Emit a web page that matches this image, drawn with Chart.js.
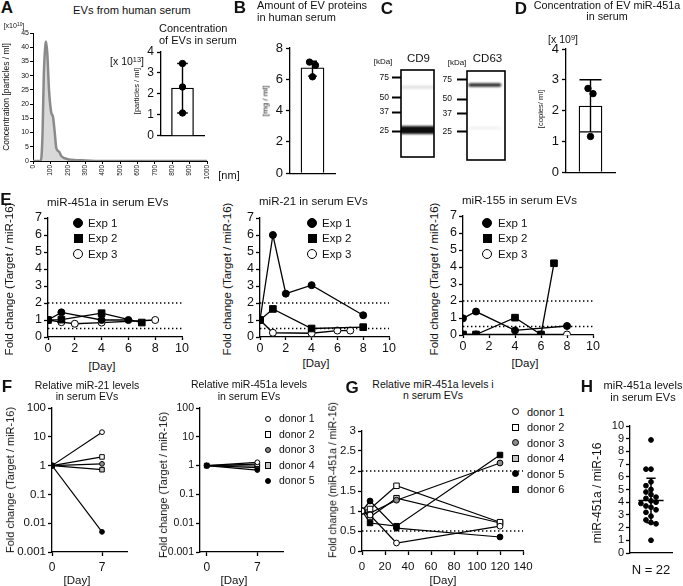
<!DOCTYPE html>
<html>
<head>
<meta charset="utf-8">
<script src="https://cdn.jsdelivr.net/npm/chart.js@4.4.1/dist/chart.umd.min.js"></script>
<style>
html, body { margin: 0; padding: 0; background: #fff; }
#fig { position: relative; width: 683px; height: 586px; overflow: hidden; font-family: 'Liberation Sans', Arial, sans-serif; color: #111; }
#fig canvas { position: absolute; }
.t { position: absolute; white-space: nowrap; line-height: 1.1; color: #111; }
.t sup { font-size: 0.7em; vertical-align: 0.5em; line-height: 0; }
.mk { position: absolute; box-sizing: border-box; border: 1.2px solid #000; }
</style>
</head>
<body>
<div id="fig"></div>
<script>
// A - size distribution (x10^10 particles/ml) and particle concentration (x10^13)
const ntaSizeNm = [0, 45, 55, 62, 70, 75, 82, 92, 105, 115, 125, 134, 150, 162, 181, 200, 250, 300, 400, 1000];
const ntaConc = [0, 0, 10, 30, 40, 42, 38, 25, 17, 15.5, 10, 4.5, 3.3, 1.8, 1, 0.6, 0.3, 0.2, 0, 0];
const evConcMean = 2.28;
const evConcPoints = [3.45, 2.33, 1.09];
const evConcRange = [1.09, 3.45];

// B - EV protein (mg/ml)
const protMean = 6.73;
const protPoints = [7.1, 6.9, 6.16];
const protRange = [6.2, 7.15];

// C - western blot
const kdaLadder = [75, 50, 37, 25];
const cd9Bands = [25.5, 62];
const cd9Intensity = [0.95, 0.12];
const cd63Bands = [67.5, 27];
const cd63Intensity = [0.85, 0.05];

// D - miR-451a copies (x10^9 / ml)
const mirMean = 2.15;
const mirPoints = [2.72, 2.55, 1.16];
const mirRange = [1.31, 3.0];

// E - fold change over days, one list per experiment
const expNames = ['Exp 1', 'Exp 2', 'Exp 3'];
const e451Days = [[0, 1, 4, 6], [0, 1, 4, 7], [0, 1, 2, 4, 8]];
const e451Fold = [[1, 1.45, 1.0, 1.0], [1, 1.02, 1.4, 0.85], [1, 0.87, 0.78, 0.85, 1.0]];
const e21Days = [[0, 1, 2, 4, 8], [0, 1, 4, 8], [0, 1, 4, 6, 7]];
const e21Fold = [[1, 6.0, 2.55, 3.05, 1.28], [1, 1.65, 0.5, 0.58], [1, 0.25, 0.22, 0.38, 0.38]];
const e155Days = [[0, 1, 4, 8], [0, 1, 4, 6, 7], [0, 1, 6, 8]];
const e155Fold = [[0.98, 1.38, 0.27, 0.53], [0.03, 0.03, 1.02, 0.03, 4.22], [0.03, 0.03, 0.03, 0.03]];
const foldGuides = [2, 0.5];

// F - day 0 vs day 7, per donor
const donorNames = ['donor 1', 'donor 2', 'donor 3', 'donor 4', 'donor 5', 'donor 6'];
const fDays = [0, 7];
const f21Fold = [[1, 14.5], [1, 2.0], [1, 1.15], [1, 0.72], [1, 0.005]];
const f451Fold = [[1, 1.3], [1, 1.12], [1, 0.97], [1, 0.85], [1, 0.7]];
const logTicks = [0.001, 0.01, 0.1, 1, 10, 100];

// G - long term, per donor
const gDays = [0, 7, 30, 120];
const gFold = [
    [1, 0.9, 0.2, 0.62],
    [1, 1.05, 1.63, 0.72],
    [1, 0.95, 1.27, 2.2],
    [1, 0.85, 1.32, 0.7],
    [1, 1.25, 0.57, 0.35],
    [1, 0.7, 0.62, 2.4]
];

// H - miR-451a / miR-16 in 22 sera
const hLevels = [8.9, 6.6, 6.6, 5.6, 5.3, 5.0, 4.8, 4.6, 4.4, 4.3, 4.1, 4.0, 3.9, 3.7, 3.6, 3.4, 3.2, 2.9, 2.6, 2.4, 2.3, 1.0];
const hMean = 4.13;
const hSd = [2.39, 5.88];

// ------------------------------------------------------------------
Chart.defaults.font.family = "'Liberation Sans', Arial, sans-serif";
Chart.defaults.color = '#111';

const fig = document.getElementById('fig');

function merge(a, b) {
    const out = Object.assign({}, a);
    for (const k in b) {
        if (b[k] && typeof b[k] === 'object' && !Array.isArray(b[k]) && a[k] && typeof a[k] === 'object') {
            out[k] = merge(a[k], b[k]);
        } else {
            out[k] = b[k];
        }
    }
    return out;
}

function canvasFor(box, m) {
    const w = box.r - box.l + m.l + m.r;
    const h = box.b - box.t + m.t + m.b;
    const cv = document.createElement('canvas');
    cv.width = w;
    cv.height = h;
    cv.style.left = (box.l - m.l) + 'px';
    cv.style.top = (box.t - m.t) + 'px';
    cv.style.width = w + 'px';
    cv.style.height = h + 'px';
    fig.appendChild(cv);
    return cv;
}

function text(html, x, y, size, o = {}) {
    const d = document.createElement('div');
    d.className = 't';
    d.innerHTML = html;
    d.style.left = x + 'px';
    d.style.top = y + 'px';
    d.style.fontSize = size + 'px';
    if (o.bold) d.style.fontWeight = 'bold';
    if (o.center) d.style.textAlign = 'center';
    const tx = o.align === 'left' ? '0' : '-50%';
    d.style.transform = 'translate(' + tx + ',-50%)' + (o.rot ? ' rotate(-90deg)' : '');
    fig.appendChild(d);
}

function marker(x, y, shape, size, fill) {
    const d = document.createElement('div');
    d.className = 'mk';
    d.style.left = (x - size / 2) + 'px';
    d.style.top = (y - size / 2) + 'px';
    d.style.width = size + 'px';
    d.style.height = size + 'px';
    d.style.background = fill;
    d.style.borderRadius = shape === 'circle' ? '50%' : '0';
    fig.appendChild(d);
}

function baseAxis(extra) {
    return merge({
        border: { display: true, color: '#000', width: 1.3 },
        grid: { drawOnChartArea: false, color: '#000', tickLength: 4, tickWidth: 1.3 },
        ticks: { color: '#111', padding: 2, autoSkip: false, maxRotation: 0, font: { size: 12 }, callback: v => String(v) }
    }, extra || {});
}

function plot(box, m, datasets, xAxis, yAxis, plugins) {
    const cv = canvasFor(box, m);
    return new Chart(cv, {
        type: 'scatter',
        data: { datasets: datasets },
        options: {
            responsive: false,
            animation: false,
            devicePixelRatio: 1,
            layout: { padding: { top: m.t, right: m.r, left: 0, bottom: 0 } },
            plugins: { legend: { display: false }, tooltip: { enabled: false } },
            scales: {
                x: merge(baseAxis(xAxis), { afterFit: s => { s.height = m.b; } }),
                y: merge(baseAxis(yAxis), { afterFit: s => { s.width = m.l; } })
            }
        },
        plugins: plugins || []
    });
}

function errorBars(x, range, cap) {
    return {
        id: 'errorBars',
        afterDatasetDraw(chart, args) {
            if (args.meta.type !== 'bar') return;
            const ctx = chart.ctx;
            const px = chart.scales.x.getPixelForValue(x);
            const lo = chart.scales.y.getPixelForValue(range[0]);
            const hi = chart.scales.y.getPixelForValue(range[1]);
            ctx.save();
            ctx.strokeStyle = '#000';
            ctx.lineWidth = 1.4;
            ctx.beginPath();
            ctx.moveTo(px, lo); ctx.lineTo(px, hi);
            ctx.moveTo(px - cap, lo); ctx.lineTo(px + cap, lo);
            ctx.moveTo(px - cap, hi); ctx.lineTo(px + cap, hi);
            ctx.stroke();
            ctx.restore();
        }
    };
}

// spread close values sideways, centred on the column
function groupJitter(vals, near, step) {
    const offs = vals.map(() => 0);
    const used = vals.map(() => false);
    vals.forEach((v, i) => {
        if (used[i]) return;
        const grp = vals.map((w, j) => j).filter(j => !used[j] && Math.abs(vals[j] - v) < near);
        grp.forEach((j, k) => { used[j] = true; offs[j] = (k - (grp.length - 1) / 2) * step; });
    });
    return offs;
}

function swarm(vals, near, step) {
    const placed = [];
    return vals.map(v => {
        for (let k = 0; k < 40; k++) {
            const off = k === 0 ? 0 : (k % 2 ? -1 : 1) * Math.ceil(k / 2) * step;
            if (!placed.some(p => Math.abs(p.x - off) < step * 0.9 && Math.abs(p.y - v) < near)) {
                placed.push({ x: off, y: v });
                return off;
            }
        }
        return 0;
    });
}

function barPanel(box, m, mean, pts, range, yMax, stepSize, cap, near, step) {
    const offs = groupJitter(pts, near, step);
    const ds = [
        { type: 'bar', data: [{ x: 0, y: mean }], barThickness: box.bar, backgroundColor: '#fff', borderColor: '#000', borderWidth: 1.3, order: 2 },
        { type: 'scatter', data: pts.map((v, i) => ({ x: offs[i], y: v })), pointRadius: 3.2, backgroundColor: '#000', borderColor: '#000', order: 1 }
    ];
    return plot(box, m, ds,
        { min: -1, max: 1, ticks: { display: false }, grid: { display: false } },
        { min: 0, max: yMax, ticks: { stepSize: stepSize, padding: 3, font: { size: box.font } } },
        [errorBars(0, range, cap)]);
}

function lineSet(days, vals, st, r, w) {
    return {
        data: days.map((d, i) => ({ x: d, y: vals[i] })),
        showLine: true,
        borderColor: '#000',
        borderWidth: w,
        pointStyle: st.pointStyle,
        pointRadius: st.pointStyle === 'rect' ? r * 1.34 : r,
        pointBackgroundColor: st.fill,
        pointBorderColor: '#000',
        pointBorderWidth: 1
    };
}

function guide(v, x0, x1) {
    return {
        data: [{ x: x0, y: v }, { x: x1, y: v }],
        showLine: true, borderColor: '#000', borderWidth: 1.4, borderDash: [1.4, 2.6],
        pointRadius: 0, order: 10
    };
}

const expStyle = [
    { pointStyle: 'circle', fill: '#000' },
    { pointStyle: 'rect', fill: '#000' },
    { pointStyle: 'circle', fill: '#fff' }
];
const donorStyle = [
    { pointStyle: 'circle', fill: '#fff' },
    { pointStyle: 'rect', fill: '#fff' },
    { pointStyle: 'circle', fill: '#8c8c8c' },
    { pointStyle: 'rect', fill: '#c4c4c4' },
    { pointStyle: 'circle', fill: '#000' },
    { pointStyle: 'rect', fill: '#000' }
];

// ---------------- A ----------------
plot({ l: 33, t: 33, r: 207, b: 161 }, { l: 33, t: 12, r: 14, b: 26 },
    [{
        data: ntaSizeNm.map((s, i) => ({ x: s, y: ntaConc[i] })),
        showLine: true, fill: 'origin', backgroundColor: '#d9d9d9',
        borderColor: '#8a8a8a', borderWidth: 2.5, pointRadius: 0,
        cubicInterpolationMode: 'monotone'
    }],
    {
        min: 0, max: 1000, border: { width: 1 },
        grid: { tickLength: 3, tickWidth: 1 },
        ticks: { stepSize: 100, minRotation: 90, maxRotation: 90, padding: 1, font: { size: 6.5 } }
    },
    {
        min: 0, max: 45, border: { width: 1 },
        grid: { tickLength: 3, tickWidth: 1 },
        ticks: { stepSize: 5, padding: 1, font: { size: 7 } }
    });

barPanel({ l: 161, t: 52, r: 204, b: 136, bar: 22, font: 12 }, { l: 22, t: 12, r: 6, b: 10 },
    evConcMean, evConcPoints, evConcRange, 4, 1, 5.3, 0.4, 0.4);

text('A', 7, 8, 17, { bold: true });
text('EVs from human serum', 73, 10, 11.2, { align: 'left' });
text('[x10<sup>10</sup>]', 14, 26, 7);
text('Concentration [particles / ml]', 7, 97, 8.5, { rot: true });
text('[nm]', 229, 175, 11);
text('Concentration<br>of EVs in serum', 159, 33.5, 11, { align: 'left' });
text('[x 10<sup>13</sup>]', 127, 62, 10.5);
text('[particles / ml]', 137, 91, 7.5, { rot: true });

// ---------------- B ----------------
barPanel({ l: 290, t: 48, r: 335, b: 174, bar: 23, font: 13 }, { l: 24, t: 12, r: 6, b: 10 },
    protMean, protPoints, protRange, 8, 2, 4.5, 0.4, 0.4);
text('B', 240, 8, 17, { bold: true });
text('Amount of EV proteins<br>in human serum', 257, 11, 11, { align: 'left' });
text('[mg / ml]', 266, 101, 8, { rot: true });

// ---------------- C ----------------
const blurBands = {
    id: 'blurBands',
    beforeDatasetDraw(chart) { chart.ctx.save(); chart.ctx.filter = 'blur(1.2px)'; },
    afterDatasetDraw(chart) { chart.ctx.restore(); }
};
const boxBorder = {
    id: 'boxBorder',
    afterDraw(chart) {
        const a = chart.chartArea, ctx = chart.ctx;
        ctx.save();
        ctx.strokeStyle = '#000';
        ctx.lineWidth = 1.6;
        ctx.strokeRect(a.left, a.top, a.width, a.height);
        ctx.restore();
    }
};

function blotPanel(box, m, bands, intensity, widths, span, yMin, yMax, tickLen, tickPad) {
    const cv = canvasFor(box, m);
    new Chart(cv, {
        type: 'scatter',
        data: {
            datasets: bands.map((k, i) => ({
                data: [{ x: span[0], y: k }, { x: span[1], y: k }],
                showLine: true, borderColor: 'rgba(0,0,0,' + intensity[i] + ')',
                borderWidth: widths[i], borderCapStyle: 'round', pointRadius: 0
            }))
        },
        options: {
            responsive: false, animation: false, devicePixelRatio: 1,
            layout: { padding: { top: m.t, right: m.r, bottom: m.b, left: 0 } },
            plugins: { legend: { display: false }, tooltip: { enabled: false } },
            scales: {
                x: { display: false, min: 0, max: 1 },
                y: {
                    type: 'logarithmic', min: yMin, max: yMax,
                    afterFit: s => { s.width = m.l; },
                    afterBuildTicks: s => { s.ticks = kdaLadder.map(v => ({ value: v })); },
                    border: { display: false },
                    grid: { drawOnChartArea: false, color: '#000', tickLength: tickLen, tickWidth: 2 },
                    ticks: { padding: tickPad, autoSkip: false, color: '#111', font: { size: 8.5 }, callback: v => String(v) }
                }
            }
        },
        plugins: [blurBands, boxBorder]
    });
}

blotPanel({ l: 401, t: 70, r: 434, b: 157 }, { l: 28, t: 12, r: 4, b: 12 },
    cd9Bands, cd9Intensity, [8, 3], [0.05, 0.95], 14.6, 88.5, 9, 3);
blotPanel({ l: 467, t: 71, r: 505, b: 160 }, { l: 28, t: 12, r: 4, b: 12 },
    cd63Bands, cd63Intensity, [3.5, 3], [0.08, 0.86], 13.7, 90.8, 10, 5);
text('C', 387, 9, 17, { bold: true });
text('CD9', 418.5, 58, 11.5);
text('CD63', 487.5, 57.5, 11.5);
text('[kDa]', 383, 62, 8);
text('[kDa]', 457, 63, 8);

// ---------------- D ----------------
barPanel({ l: 566, t: 49, r: 615, b: 173, bar: 23, font: 13 }, { l: 24, t: 12, r: 6, b: 10 },
    mirMean, mirPoints, mirRange, 4, 1, 11, 0.4, 0.31);
text('D', 521, 9, 17, { bold: true });
text('Concentration of EV miR-451a<br>in serum', 607, 11.5, 10.8, { center: true });
text('[x 10<sup>9</sup>]', 563, 40, 10.5);
text('[copies/ ml]', 541, 109, 7.6, { rot: true });

// ---------------- E ----------------
const ePanels = [
    { box: { l: 48, t: 218, r: 182, b: 337 }, days: e451Days, fold: e451Fold, title: 'miR-451a in serum EVs', ty: 201.5, lab: 9, day: [102, 366], leg: [78, 88, 222.5] },
    { box: { l: 260, t: 218, r: 389, b: 337 }, days: e21Days, fold: e21Fold, title: 'miR-21 in serum EVs', ty: 200.5, lab: 227, day: [316, 363], leg: [312, 322, 222.5] },
    { box: { l: 463, t: 216, r: 593, b: 335 }, days: e155Days, fold: e155Fold, title: 'miR-155 in serum EVs', ty: 200, lab: 434, day: [525, 363], leg: [487, 498, 222.5] }
];

ePanels.forEach(p => {
    const ds = p.days.map((d, i) => lineSet(d, p.fold[i], expStyle[i], 3.5, 1.3));
    foldGuides.forEach(g => ds.push(guide(g, 0, 10)));
    plot(p.box, { l: 22, t: 12, r: 14, b: 18 }, ds,
        { min: 0, max: 10, grid: { tickLength: 3 }, ticks: { stepSize: 2, padding: 1, font: { size: 12.5 } } },
        { min: 0, max: 7, ticks: { stepSize: 1, font: { size: 12.5 } } });
    text(p.title, p.box.l - 1, p.ty, 11.5, { align: 'left' });
    text('Fold change (Target / miR-16)', p.lab, 279, 11.5, { rot: true });
    text('[Day]', p.day[0], p.day[1], 11.5);
    expNames.forEach((n, i) => {
        const y = p.leg[2] + i * 15.7;
        marker(p.leg[0], y, expStyle[i].pointStyle === 'rect' ? 'square' : 'circle', expStyle[i].pointStyle === 'rect' ? 9 : 10, expStyle[i].fill);
        text(n, p.leg[1], y, 11.5, { align: 'left' });
    });
});
text('E', 6, 200, 17, { bold: true });

// ---------------- F ----------------
const logAxis = {
    type: 'logarithmic', min: 0.001, max: 100,
    afterBuildTicks: s => { s.ticks = logTicks.map(v => ({ value: v })); }
};
const dayAxis = {
    afterBuildTicks: s => { s.ticks = fDays.map(v => ({ value: v })); },
    ticks: { padding: 4 }
};

function fSets(fold) {
    return fold.map((v, i) => {
        const s = lineSet(fDays, v, donorStyle[i], 2.4, 1.2);
        s.order = i === 4 ? -1 : i;
        return s;
    });
}

plot({ l: 52, t: 408, r: 127, b: 552 }, { l: 52, t: 12, r: 8, b: 22 }, fSets(f21Fold),
    merge(dayAxis, { min: 0, max: 10.5 }), merge(logAxis, { ticks: { font: { size: 11.5 } } }));
plot({ l: 200, t: 408, r: 283, b: 552 }, { l: 34, t: 12, r: 8, b: 22 }, fSets(f451Fold),
    merge(dayAxis, { min: -0.93, max: 10.55 }), merge(logAxis, { ticks: { font: { size: 10.5 } } }));

text('F', 7, 387, 17, { bold: true });
text('Relative miR-21 levels<br>in serum EVs', 87, 391.5, 10.5, { center: true });
text('Relative miR-451a levels<br>in serum EVs', 249, 391, 10.5, { center: true });
text('Fold change (Target / miR-16)', 10, 480, 11, { rot: true });
text('Fold change (Target / miR-16)', 163, 485, 11, { rot: true });
text('[Day]', 77, 580, 11.5);
text('[Day]', 234, 580, 11.5);
f451Fold.forEach((v, i) => {
    const y = 419 + i * 15.5;
    marker(268, y, donorStyle[i].pointStyle === 'rect' ? 'square' : 'circle', 6.5, donorStyle[i].fill);
    text(donorNames[i], 279, y, 10.5, { align: 'left' });
});

// ---------------- G ----------------
const gSets = gFold.map((v, i) => lineSet(gDays, v, donorStyle[i], 2.9, 1.2));
foldGuides.forEach(g => gSets.push(guide(g, 0, 140)));
plot({ l: 362, t: 431, r: 523, b: 551 }, { l: 26, t: 12, r: 20, b: 26 }, gSets,
    { min: 0, max: 140, ticks: { stepSize: 20, padding: 5, font: { size: 11.5 } } },
    { min: 0, max: 3, ticks: { stepSize: 0.5, font: { size: 11.5 } } });

text('G', 352, 388, 17, { bold: true });
text('Relative miR-451a levels i<br>n serum EVs', 433, 390.5, 10.5, { center: true });
text('Fold change (miR-451a / miR-16)', 333, 480, 10.5, { rot: true });
text('[Day]', 443, 580, 11.5);
gFold.forEach((v, i) => {
    const y = 411.7 + i * 15.5;
    marker(515, y, donorStyle[i].pointStyle === 'rect' ? 'square' : 'circle', 7, donorStyle[i].fill);
    text(donorNames[i], 527, y, 11, { align: 'left' });
});

// ---------------- H ----------------
const meanSd = {
    id: 'meanSd',
    afterDatasetsDraw(chart) {
        const x = chart.scales.x, y = chart.scales.y, ctx = chart.ctx;
        const cx = x.getPixelForValue(0);
        const half = x.getPixelForValue(0.6) - cx;
        const cap = x.getPixelForValue(0.22) - cx;
        const m = y.getPixelForValue(hMean), lo = y.getPixelForValue(hSd[0]), hi = y.getPixelForValue(hSd[1]);
        ctx.save();
        ctx.strokeStyle = '#000';
        ctx.lineWidth = 1.5;
        ctx.beginPath();
        ctx.moveTo(cx - half, m); ctx.lineTo(cx + half, m);
        ctx.moveTo(cx, lo); ctx.lineTo(cx, hi);
        ctx.moveTo(cx - cap, lo); ctx.lineTo(cx + cap, lo);
        ctx.moveTo(cx - cap, hi); ctx.lineTo(cx + cap, hi);
        ctx.stroke();
        ctx.restore();
    }
};
const hOffs = swarm(hLevels, 0.4, 0.24);
plot({ l: 630, t: 426, r: 672, b: 553 }, { l: 20, t: 12, r: 6, b: 10 },
    [{ data: hLevels.map((v, i) => ({ x: hOffs[i], y: v })), pointRadius: 2.4, backgroundColor: '#000', borderColor: '#000' }],
    { min: -1, max: 1, ticks: { display: false }, grid: { display: false } },
    { min: 0, max: 10, ticks: { stepSize: 1, font: { size: 11 } } },
    [meanSd]);

text('H', 587, 387, 17, { bold: true });
text('miR-451a levels<br>in serum EVs', 643, 391, 11, { center: true });
text('miR-451a / miR-16', 598, 493, 12, { rot: true });
text('N = ' + hLevels.length, 651, 570, 13);
</script>
</body>
</html>
